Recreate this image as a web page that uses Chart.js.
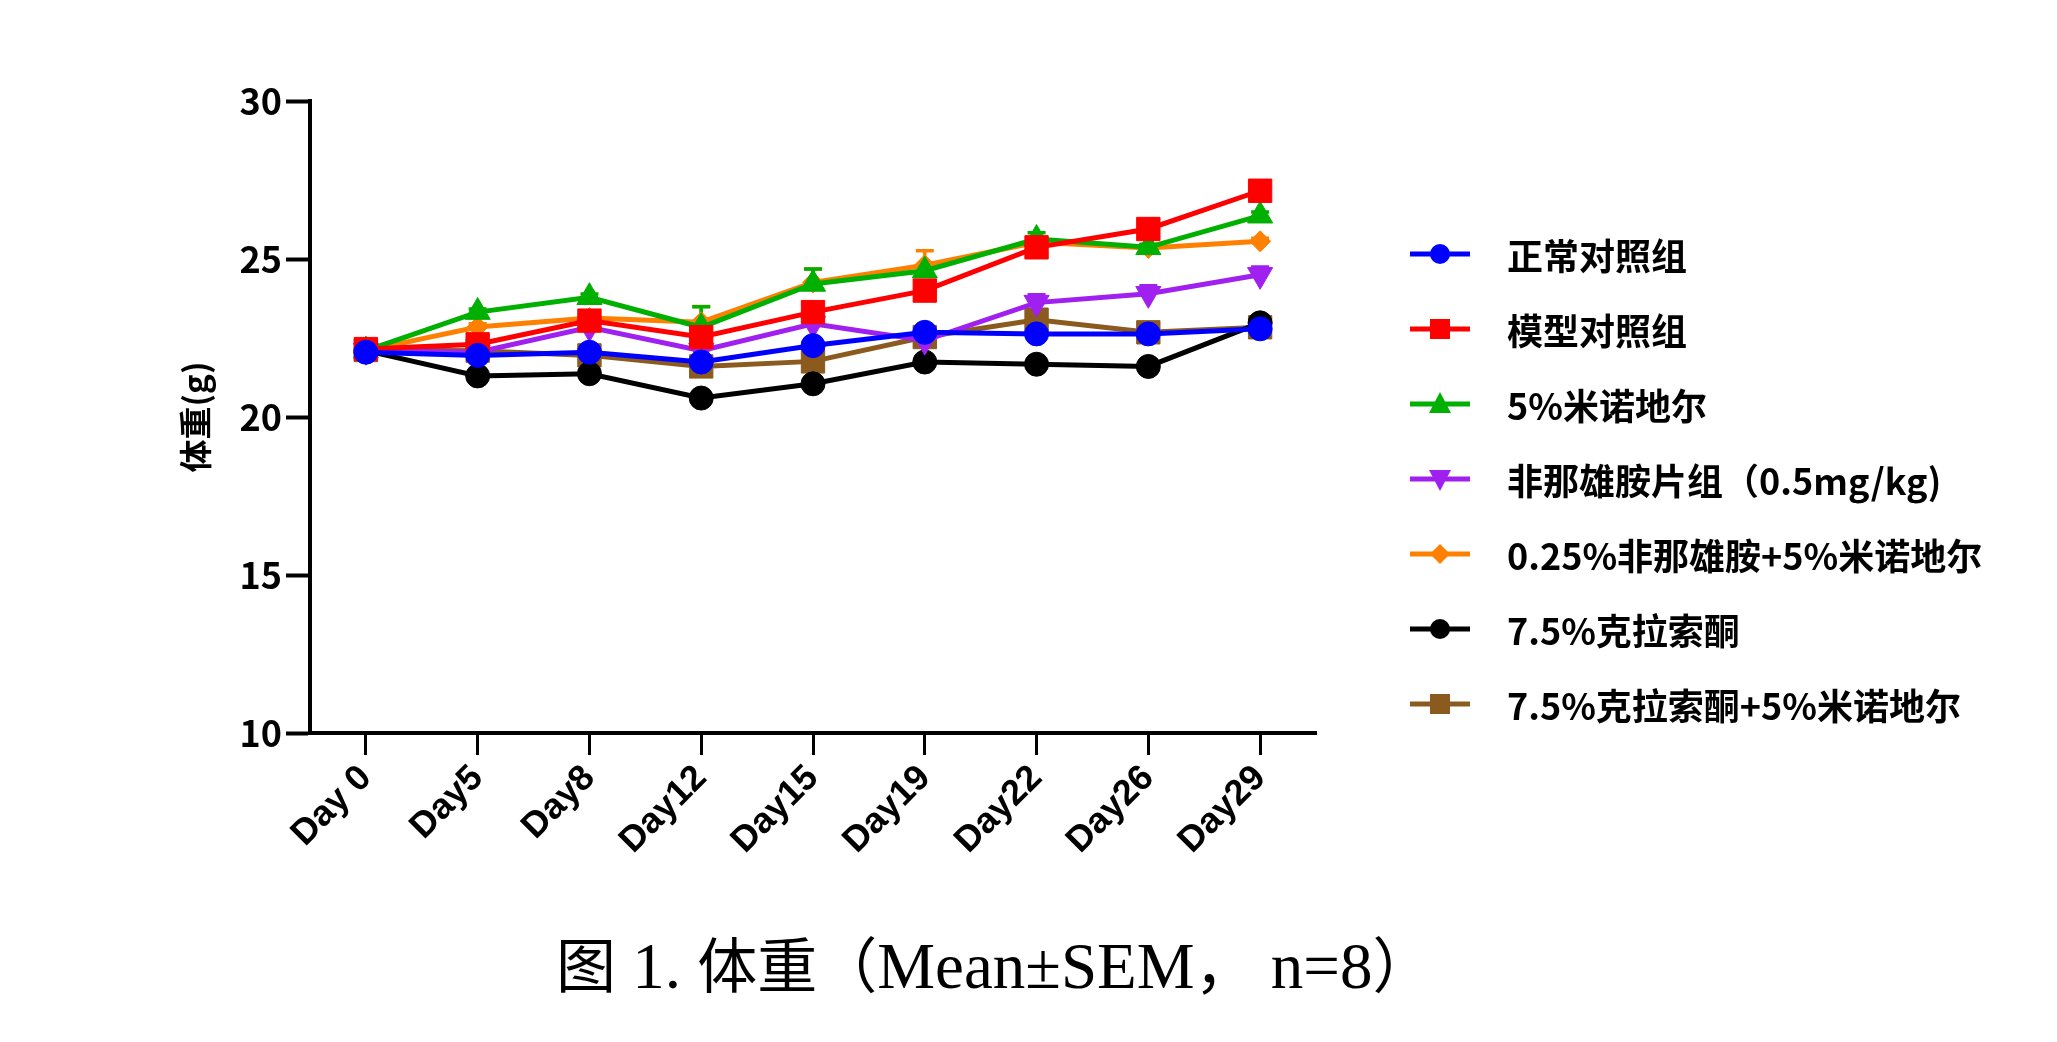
<!DOCTYPE html>
<html lang="zh">
<head>
<meta charset="utf-8">
<script src="https://cdn.jsdelivr.net/npm/chart.js@4.4.0/dist/chart.umd.min.js"></script>
<style>
  html, body { margin: 0; padding: 0; background: #fff; }
  #wrap { position: relative; width: 2057px; height: 1042px; overflow: hidden; }
  #myChart { position: absolute; left: 0; top: 0; }
  #legend { position: absolute; left: 1410px; top: 0; }
  .item { position: absolute; left: 0; height: 40px; display: flex; align-items: center; white-space: nowrap;
          font: bold 36px "Noto Sans CJK SC", sans-serif; color: #000; }
  .item svg { width: 60px; height: 30px; margin-right: 37px; flex: none; }
  #caption { position: absolute; left: 556px; top: 918px; white-space: pre; color: #000;
             font: 60px "Noto Sans CJK SC", serif; }
  #caption .lat { font-family: "Liberation Serif", serif; font-size: 65px; }
</style>
</head>
<body>
<div id="wrap">
  <canvas id="myChart" width="2057" height="1042"></canvas>
  <div id="legend"></div>
  <div id="caption">图<span class="lat"> 1. </span>体重（<span class="lat">Mean±SEM</span>，<span class="lat"> n=8</span>）</div>
</div>
<script>
// Dados (peso corporal, g)
const labels = ["Day 0", "Day5", "Day8", "Day12", "Day15", "Day19", "Day22", "Day26", "Day29"];
const groupNames = [
  "正常对照组",
  "模型对照组",
  "5%米诺地尔",
  "非那雄胺片组（0.5mg/kg)",
  "0.25%非那雄胺+5%米诺地尔",
  "7.5%克拉索酮",
  "7.5%克拉索酮+5%米诺地尔"
];

const normal    = [22.05, 21.95, 22.05, 21.74, 22.26, 22.68, 22.63, 22.63, 22.79];
const model     = [22.15, 22.30, 23.05, 22.53, 23.32, 24.00, 25.37, 25.95, 27.16];
const minox     = [22.10, 23.32, 23.79, 22.84, 24.21, 24.63, 25.63, 25.37, 26.37];
const finaTab   = [22.10, 22.05, 22.84, 22.10, 22.95, 22.42, 23.62, 23.90, 24.50];
const finaMinox = [22.10, 22.85, 23.13, 23.00, 24.26, 24.80, 25.53, 25.35, 25.56];
const clas      = [22.10, 21.30, 21.37, 20.60, 21.05, 21.74, 21.67, 21.60, 22.98];
const clasMinox = [22.12, 22.10, 21.95, 21.60, 21.76, 22.53, 23.08, 22.68, 22.84];

// SEM (só algumas barras ficam visíveis acima dos marcadores)
const normalSem    = [0.15, 0.20, 0.20, 0.20, 0.20, 0.20, 0.20, 0.20, 0.20];
const modelSem     = [0.15, 0.25, 0.25, 0.30, 0.30, 0.30, 0.30, 0.30, 0.30];
const minoxSem     = [0.10, 0.10, 0.10, 0.65, 0.47, 0.12, 0.20, 0.10, 0.12];
const finaTabSem   = [0.15, 0.20, 0.20, 0.20, 0.25, 0.25, 0.25, 0.25, 0.25];
const finaMinoxSem = [0.10, 0.10, 0.10, 0.50, 0.42, 0.46, 0.12, 0.10, 0.10];
const clasSem      = [0.15, 0.20, 0.20, 0.20, 0.20, 0.20, 0.20, 0.20, 0.20];
const clasMinoxSem = [0.15, 0.20, 0.20, 0.25, 0.25, 0.25, 0.25, 0.25, 0.25];

const yTicks = [10, 15, 20, 25, 30];

const colors = ["#0000ff", "#ff0000", "#00b000", "#a020f0", "#ff8000", "#000000", "#8b5a1e"];
const series = [normal, model, minox, finaTab, finaMinox, clas, clasMinox];
const semList = [normalSem, modelSem, minoxSem, finaTabSem, finaMinoxSem, clasSem, clasMinoxSem];
const shapes = ["circle", "square", "up", "down", "diamond", "circle", "square"];

function pointOpts(shape) {
  if (shape === "circle") return { pointStyle: "circle", pointRadius: 12, pointRotation: 0 };
  if (shape === "square") return { pointStyle: "rect", pointRadius: 16.5, pointRotation: 0 };
  if (shape === "up") return { pointStyle: "triangle", pointRadius: 14.5, pointRotation: 0 };
  if (shape === "down") return { pointStyle: "triangle", pointRadius: 14.5, pointRotation: 180 };
  return { pointStyle: "rectRot", pointRadius: 10.5, pointRotation: 0 };
}

const datasets = series.map((vals, k) => Object.assign({
  label: groupNames[k],
  data: vals,
  borderColor: colors[k],
  backgroundColor: colors[k],
  pointBackgroundColor: colors[k],
  pointBorderColor: colors[k],
  pointBorderWidth: 1,
  borderWidth: 5,
  fill: false,
  tension: 0
}, pointOpts(shapes[k])));

// Barras de erro (SEM, só para cima) desenhadas por baixo das linhas
const errorBars = {
  id: "errorBars",
  beforeDatasetsDraw(chart) {
    const ctx = chart.ctx;
    const xs = chart.scales.x, ys = chart.scales.y;
    for (let k = chart.data.datasets.length - 1; k >= 0; k--) {
      const ds = chart.data.datasets[k];
      ctx.save();
      ctx.strokeStyle = ds.borderColor;
      ctx.lineWidth = 3.5;
      ds.data.forEach((v, i) => {
        const px = xs.getPixelForValue(i);
        const py = ys.getPixelForValue(v);
        const pt = ys.getPixelForValue(v + semList[k][i]);
        ctx.beginPath();
        ctx.moveTo(px, py);
        ctx.lineTo(px, pt);
        ctx.moveTo(px - 9, pt);
        ctx.lineTo(px + 9, pt);
        ctx.stroke();
      });
      ctx.restore();
    }
  }
};

const config = {
  type: "line",
  data: { labels: labels, datasets: datasets },
  options: {
    responsive: false,
    animation: false,
    layout: { padding: { left: 0, right: 741, top: 101, bottom: 0 } },
    plugins: { legend: { display: false }, tooltip: { enabled: false } },
    scales: {
      x: {
        offset: true,
        grid: { display: true, drawOnChartArea: false, drawTicks: true, tickLength: 22,
                tickWidth: 3, tickColor: "#000", offset: false },
        border: { display: true, color: "#000", width: 4 },
        ticks: { color: "#000", autoSkip: false, minRotation: 45, maxRotation: 45, padding: 2,
                 font: { family: "Liberation Sans", size: 36, weight: "bold" } },
        afterFit(s) { s.height = 309; }
      },
      y: {
        min: 10,
        max: 30,
        afterBuildTicks(s) { s.ticks = yTicks.map(v => ({ value: v })); },
        grid: { drawOnChartArea: false, drawTicks: true, tickLength: 24, tickWidth: 4, tickColor: "#000" },
        border: { display: true, color: "#000", width: 4 },
        ticks: { color: "#000", padding: 4,
                 font: { family: "Noto Sans CJK SC", size: 36, weight: "bold" } },
        title: { display: true, text: "体重(g)", color: "#000", padding: { top: 176, bottom: 0 },
                 font: { family: "Noto Sans CJK SC", size: 33, weight: "bold" } },
        afterFit(s) { s.width = 310; }
      }
    }
  },
  plugins: [errorBars]
};

new Chart(document.getElementById("myChart").getContext("2d"), config);

// Legenda em HTML (linha + marcador)
function iconSvg(color, shape) {
  let mark;
  if (shape === "circle") mark = '<circle cx="30" cy="15" r="10" fill="' + color + '"/>';
  else if (shape === "square") mark = '<rect x="20" y="5" width="20" height="20" fill="' + color + '"/>';
  else if (shape === "up") mark = '<polygon points="30,3 41,24 19,24" fill="' + color + '"/>';
  else if (shape === "down") mark = '<polygon points="19,6 41,6 30,27" fill="' + color + '"/>';
  else mark = '<polygon points="30,5 40,15 30,25 20,15" fill="' + color + '"/>';
  return '<svg viewBox="0 0 60 30"><line x1="0" y1="15" x2="60" y2="15" stroke="' + color +
         '" stroke-width="5"/>' + mark + '</svg>';
}

const legend = document.getElementById("legend");
groupNames.forEach((name, k) => {
  const row = document.createElement("div");
  row.className = "item";
  row.style.top = (254 + 75 * k - 20) + "px";
  row.innerHTML = iconSvg(colors[k], shapes[k]) + "<span></span>";
  row.querySelector("span").textContent = name;
  legend.appendChild(row);
});
</script>
</body>
</html>
